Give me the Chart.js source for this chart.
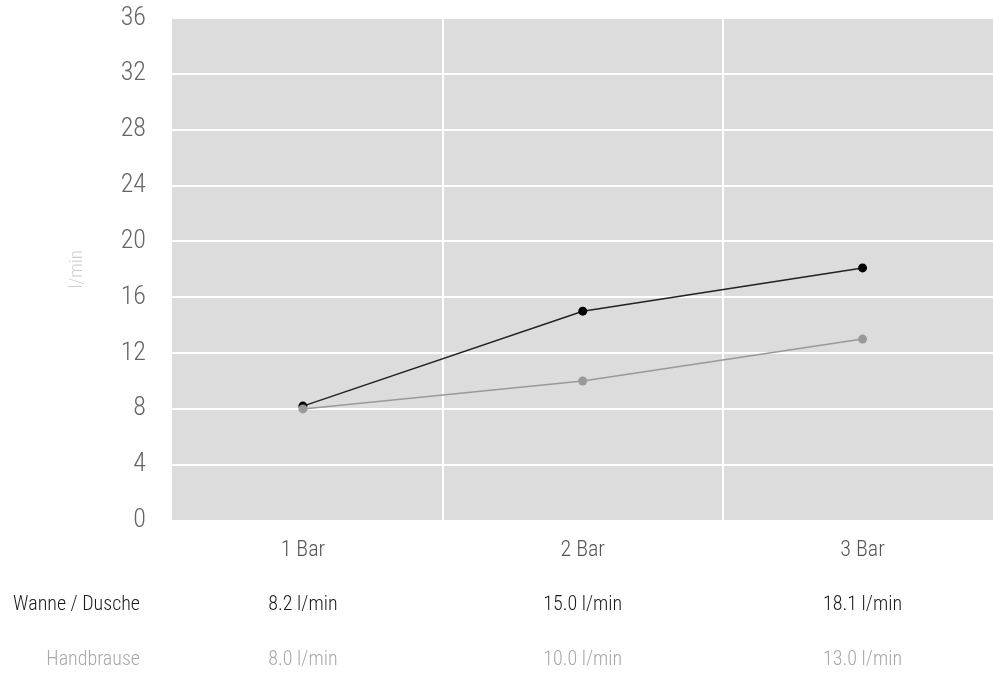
<!DOCTYPE html>
<html>
<head>
<meta charset="utf-8">
<script src="https://cdn.jsdelivr.net/npm/chart.js@4/dist/chart.umd.min.js"></script>
<style>
    html, body { margin: 0; padding: 0; background: #fff; overflow: hidden; }
    #wrap { width: 1007px; height: 673px; }
</style>
</head>
<body>
<div id="wrap"><canvas id="druckChart" width="1007" height="673"></canvas></div>
<script>
// Druckstufen und Durchfluss (l/min)
const categories = ['1 Bar', '2 Bar', '3 Bar'];
const wanneDusche = [8.2, 15.0, 18.1];
const handbrause = [8.0, 10.0, 13.0];
const seriesNames = ['Wanne / Dusche', 'Handbrause'];
const yTicks = [0, 4, 8, 12, 16, 20, 24, 28, 32, 36];

const FONT = "'Roboto Condensed', 'Noto Sans Condensed', 'Open Sans Condensed', 'Liberation Sans Narrow', 'DejaVu Sans Condensed', sans-serif";

// grauer Hintergrund der Zeichenfläche
const plotBackground = {
    id: 'plotBackground',
    beforeDraw(chart) {
        const { ctx, chartArea } = chart;
        ctx.save();
        ctx.fillStyle = '#dcdcdc';
        ctx.fillRect(172, chartArea.top, chartArea.right - 172, chartArea.bottom - chartArea.top);
        ctx.restore();
    }
};

// Wertetabelle unter der Grafik
const valueTable = {
    id: 'valueTable',
    afterDraw(chart) {
        const { ctx } = chart;
        const x = chart.scales.x;
        const rows = [
            { name: seriesNames[0], values: wanneDusche, color: '#1a1a1a', y: 605 },
            { name: seriesNames[1], values: handbrause, color: '#a8a8a8', y: 660 }
        ];
        ctx.save();
        ctx.font = '300 20px ' + FONT;
        ctx.textBaseline = 'middle';
        rows.forEach(row => {
            ctx.fillStyle = row.color;
            ctx.textAlign = 'right';
            ctx.fillText(row.name, 140, row.y);
            ctx.textAlign = 'center';
            row.values.forEach((v, i) => {
                ctx.fillText(v.toFixed(1) + ' l/min', x.getPixelForValue(i), row.y);
            });
        });
        ctx.restore();
    }
};

new Chart(document.getElementById('druckChart'), {
    type: 'line',
    data: {
        labels: categories,
        datasets: [
            {
                label: seriesNames[1],
                data: handbrause,
                borderColor: '#999999',
                backgroundColor: '#999999',
                borderWidth: 1.5,
                pointRadius: 4.5,
                pointBorderWidth: 0,
                tension: 0
            },
            {
                label: seriesNames[0],
                data: wanneDusche,
                borderColor: '#222222',
                backgroundColor: '#000000',
                borderWidth: 1.5,
                pointRadius: 4.5,
                pointBorderWidth: 0,
                tension: 0
            }
        ]
    },
    options: {
        responsive: false,
        animation: false,
        layout: { padding: { top: 18, right: 0, bottom: 92, left: 0 } },
        plugins: {
            legend: { display: false },
            tooltip: { enabled: false }
        },
        scales: {
            x: {
                offset: true,
                grid: { color: '#ffffff', lineWidth: 2, offset: true, drawTicks: false },
                border: { display: false },
                ticks: { color: '#555555', padding: 17, font: { family: FONT, size: 22, weight: '300' } }
            },
            y: {
                min: 0,
                max: 36,
                afterFit(scale) {
                    scale.width = 163;
                    scale.paddingTop = 0;
                },
                afterBuildTicks(scale) { scale.ticks = yTicks.map(v => ({ value: v })); },
                grid: { color: '#ffffff', lineWidth: 2, drawTicks: false },
                border: { display: false },
                ticks: { color: '#666666', padding: 17, font: { family: FONT, size: 26, weight: '300' } },
                title: {
                    display: true,
                    text: 'l/min',
                    color: '#cccccc',
                    padding: { top: 66, bottom: 0 },
                    font: { family: FONT, size: 19, weight: '300' }
                }
            }
        }
    },
    plugins: [plotBackground, valueTable]
});
</script>
</body>
</html>
